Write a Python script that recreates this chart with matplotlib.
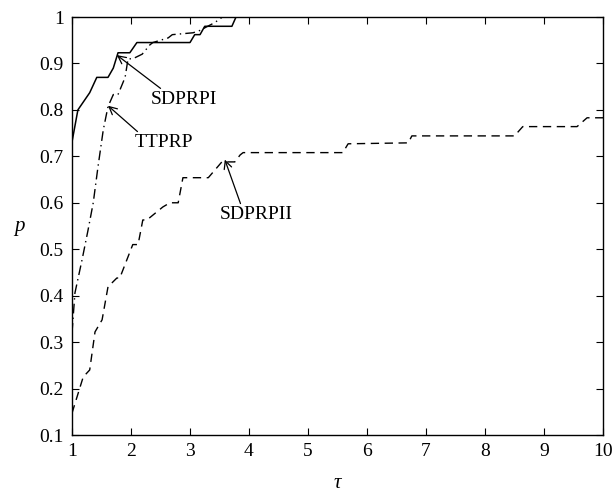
import matplotlib
matplotlib.use("Agg")
import matplotlib.pyplot as plt

# performance profiles
tau_sdprpi = [1, 1.1, 1.3, 1.42, 1.61, 1.7, 1.78, 1.98, 2.1, 3.0, 3.08, 3.17, 3.25, 3.71, 3.78, 10]
p_sdprpi = [0.731, 0.80, 0.837, 0.87, 0.87, 0.89, 0.923, 0.923, 0.945, 0.945, 0.962, 0.962, 0.98, 0.98, 1.0, 1.0]

tau_ttprp = [1, 1.05, 1.17, 1.27, 1.36, 1.44, 1.53, 1.61, 1.70, 1.78, 1.9, 1.95, 2.03, 2.19,
             2.32, 2.37, 2.63, 2.7, 3.05, 3.15, 3.42, 3.55, 10]
p_ttprp = [0.32, 0.406, 0.477, 0.54, 0.60, 0.677, 0.757, 0.807, 0.833, 0.833, 0.87, 0.91, 0.91, 0.92,
           0.94, 0.945, 0.955, 0.962, 0.966, 0.97, 0.988, 1.0, 1.0]

tau_sdprpii = [1, 1.19, 1.3, 1.39, 1.51, 1.61, 1.76, 1.81, 2.03, 2.12, 2.2, 2.27, 2.54, 2.66, 2.8,
               2.88, 3.31, 3.54, 3.76, 3.85, 3.9, 5.59, 5.68, 6.7, 6.76, 8.5, 8.64, 9.56, 9.73, 10]
p_sdprpii = [0.147, 0.225, 0.24, 0.322, 0.348, 0.419, 0.438, 0.438, 0.51, 0.51, 0.563, 0.563, 0.591, 0.60, 0.60,
             0.654, 0.654, 0.688, 0.688, 0.703, 0.708, 0.708, 0.727, 0.729, 0.744, 0.744, 0.764, 0.764, 0.783, 0.783]

plt.rcParams['font.family'] = ['Liberation Serif', 'DejaVu Serif']

fig = plt.figure(figsize=(6.12, 4.95), dpi=100)
ax = fig.add_axes([72 / 612, 1 - 435 / 495, 531 / 612, 418 / 495])

ax.plot(tau_sdprpi, p_sdprpi, color='black', linewidth=1.1, linestyle='-')
ax.plot(tau_ttprp, p_ttprp, color='black', linewidth=1.0, linestyle=(0, (7, 3, 1, 3)))
ax.plot(tau_sdprpii, p_sdprpii, color='black', linewidth=1.0, linestyle=(0, (6, 4)))

arrow = dict(arrowstyle='->', color='black', linewidth=0.9, shrinkA=0, shrinkB=0)
ax.annotate('SDPRPI', xy=(1.76, 0.918), xytext=(2.90, 0.822), fontsize=14,
            ha='center', va='center', arrowprops=dict(arrow, relpos=(0.2, 1.0)))
ax.annotate('TTPRP', xy=(1.61, 0.809), xytext=(2.56, 0.729), fontsize=14,
            ha='center', va='center', arrowprops=dict(arrow, relpos=(0.1, 1.0)))
ax.annotate('SDPRPII', xy=(3.59, 0.693), xytext=(4.12, 0.574), fontsize=14,
            ha='center', va='center', arrowprops=dict(arrow, relpos=(0.3, 1.0)))

ax.set_xlim(1, 10)
ax.set_ylim(0.1, 1)
ax.set_xticks(range(1, 11))
ax.set_yticks([0.1, 0.2, 0.3, 0.4, 0.5, 0.6, 0.7, 0.8, 0.9, 1])
ax.set_yticklabels(['0.1', '0.2', '0.3', '0.4', '0.5', '0.6', '0.7', '0.8', '0.9', '1'])
ax.tick_params(direction='in', length=5, width=0.8, top=True, right=True, labelsize=14, pad=6)
for s in ax.spines.values():
    s.set_linewidth(1.0)

ax.set_xlabel('τ', fontsize=15, style='italic', labelpad=10)
ax.set_ylabel('p', fontsize=15, style='italic', rotation=0, labelpad=14, va='center')

fig.savefig('out.png', dpi=100)
